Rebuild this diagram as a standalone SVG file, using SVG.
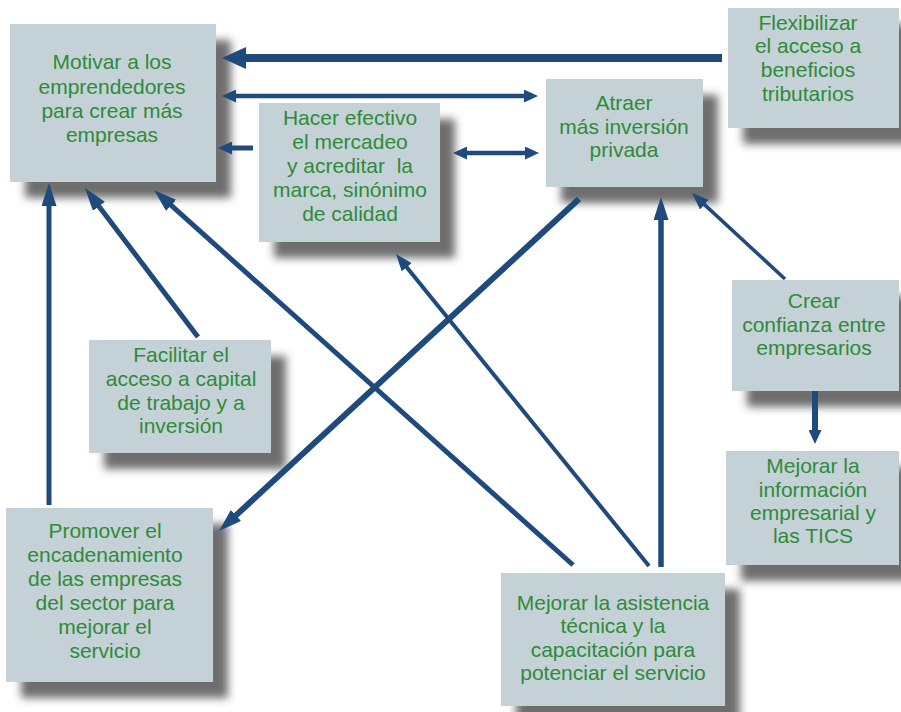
<svg xmlns="http://www.w3.org/2000/svg" width="901" height="712" viewBox="0 0 901 712">
<style>
.box{fill:#c4d1d7;filter:url(#sh);}
.t{font-family:"Liberation Sans",Arial,sans-serif;font-size:21px;fill:#2e8b37;text-anchor:middle;}
.c{stroke:#1f4a7c;fill:none;stroke-linecap:butt;}
</style>
<defs>
<filter id="sh" x="-20%" y="-20%" width="150%" height="150%">
<feDropShadow dx="15" dy="16" stdDeviation="4.5" flood-color="#3c3c3c" flood-opacity="0.75"/>
</filter>
<marker id="mBig" viewBox="0 0 24 22" markerWidth="24" markerHeight="22" refX="1" refY="11" markerUnits="userSpaceOnUse" orient="auto-start-reverse"><path d="M0,0 L24,11 L0,22 z" fill="#1f4a7c"/></marker>
<marker id="mSmall" viewBox="0 0 14 13" markerWidth="14" markerHeight="13" refX="1" refY="6.5" markerUnits="userSpaceOnUse" orient="auto-start-reverse"><path d="M0,0 L14,6.5 L0,13 z" fill="#1f4a7c"/></marker>
<marker id="mLong" viewBox="0 0 23 15" markerWidth="23" markerHeight="15" refX="1" refY="7.5" markerUnits="userSpaceOnUse" orient="auto-start-reverse"><path d="M0,0 L23,7.5 L0,15 z" fill="#1f4a7c"/></marker>
<marker id="mThin" viewBox="0 0 17 13" markerWidth="17" markerHeight="13" refX="1" refY="6.5" markerUnits="userSpaceOnUse" orient="auto-start-reverse"><path d="M0,0 L17,6.5 L0,13 z" fill="#1f4a7c"/></marker>
</defs>
<rect width="901" height="712" fill="#ffffff"/>

<g id="n-motivar">
<rect class="box" x="10" y="24" width="206" height="158"/>
<text class="t"><tspan x="112" y="69">Motivar a los</tspan><tspan x="112" y="94">emprendedores</tspan><tspan x="112" y="118">para crear más</tspan><tspan x="112" y="142">empresas</tspan></text>
</g>
<g id="n-hacer">
<rect class="box" x="259" y="103" width="181" height="139"/>
<text class="t"><tspan x="350" y="125">Hacer efectivo</tspan><tspan x="350" y="149">el mercadeo</tspan><tspan x="350" y="173">y acreditar&#160; la</tspan><tspan x="350" y="197">marca, sinónimo</tspan><tspan x="350" y="221">de calidad</tspan></text>
</g>
<g id="n-atraer">
<rect class="box" x="546" y="79" width="157" height="108"/>
<text class="t"><tspan x="624" y="110">Atraer</tspan><tspan x="624" y="134">más inversión</tspan><tspan x="624" y="157">privada</tspan></text>
</g>
<g id="n-flex">
<rect class="box" x="728" y="8" width="171" height="120"/>
<text class="t"><tspan x="808" y="30">Flexibilizar</tspan><tspan x="808" y="53">el acceso a</tspan><tspan x="808" y="77">beneficios</tspan><tspan x="808" y="101">tributarios</tspan></text>
</g>
<g id="n-crear">
<rect class="box" x="732" y="280" width="167" height="111"/>
<text class="t"><tspan x="814" y="308">Crear</tspan><tspan x="814" y="332">confianza entre</tspan><tspan x="814" y="355">empresarios</tspan></text>
</g>
<g id="n-info">
<rect class="box" x="726" y="451" width="173" height="114"/>
<text class="t"><tspan x="813" y="473">Mejorar la</tspan><tspan x="813" y="497">información</tspan><tspan x="813" y="520">empresarial y</tspan><tspan x="813" y="543">las TICS</tspan></text>
</g>
<g id="n-facilitar">
<rect class="box" x="89" y="340" width="182" height="113"/>
<text class="t"><tspan x="181" y="362">Facilitar el</tspan><tspan x="181" y="386">acceso a capital</tspan><tspan x="181" y="410">de trabajo y a</tspan><tspan x="181" y="433">inversión</tspan></text>
</g>
<g id="n-promover">
<rect class="box" x="6" y="508" width="207" height="174"/>
<text class="t"><tspan x="105" y="538">Promover el</tspan><tspan x="105" y="562">encadenamiento</tspan><tspan x="105" y="586">de las empresas</tspan><tspan x="105" y="610">del sector para</tspan><tspan x="105" y="634">mejorar el</tspan><tspan x="105" y="658">servicio</tspan></text>
</g>
<g id="n-asistencia">
<rect class="box" x="501" y="573" width="224" height="133"/>
<text class="t"><tspan x="613" y="610">Mejorar la asistencia</tspan><tspan x="613" y="633">técnica y la</tspan><tspan x="613" y="657">capacitación para</tspan><tspan x="613" y="680">potenciar el servicio</tspan></text>
</g>

<g id="connectors">
<line class="c" x1="722" y1="58" x2="245" y2="58" stroke-width="8" marker-end="url(#mBig)"/>
<line class="c" x1="235" y1="96" x2="525" y2="96" stroke-width="4.5" marker-start="url(#mSmall)" marker-end="url(#mSmall)"/>
<line class="c" x1="253" y1="148" x2="231" y2="148" stroke-width="5" marker-end="url(#mSmall)"/>
<line class="c" x1="466" y1="153" x2="526" y2="153" stroke-width="4.5" marker-start="url(#mSmall)" marker-end="url(#mSmall)"/>
<line class="c" x1="49" y1="505" x2="49" y2="205" stroke-width="5" marker-end="url(#mLong)"/>
<line class="c" x1="198" y1="337" x2="98.3" y2="205.5" stroke-width="5" marker-end="url(#mLong)"/>
<line class="c" x1="573" y1="565" x2="170.4" y2="204.7" stroke-width="5" marker-end="url(#mLong)"/>
<line class="c" x1="649" y1="566" x2="406.1" y2="266.4" stroke-width="4" marker-end="url(#mThin)"/>
<line class="c" x1="661" y1="567" x2="661" y2="219" stroke-width="5.5" marker-end="url(#mLong)"/>
<line class="c" x1="579" y1="199" x2="235.2" y2="516.1" stroke-width="6" marker-end="url(#mLong)"/>
<line class="c" x1="785" y1="279" x2="703.7" y2="203.9" stroke-width="3.5" marker-end="url(#mThin)"/>
<line class="c" x1="815" y1="391" x2="815" y2="431" stroke-width="6" marker-end="url(#mSmall)"/>
</g>
</svg>
